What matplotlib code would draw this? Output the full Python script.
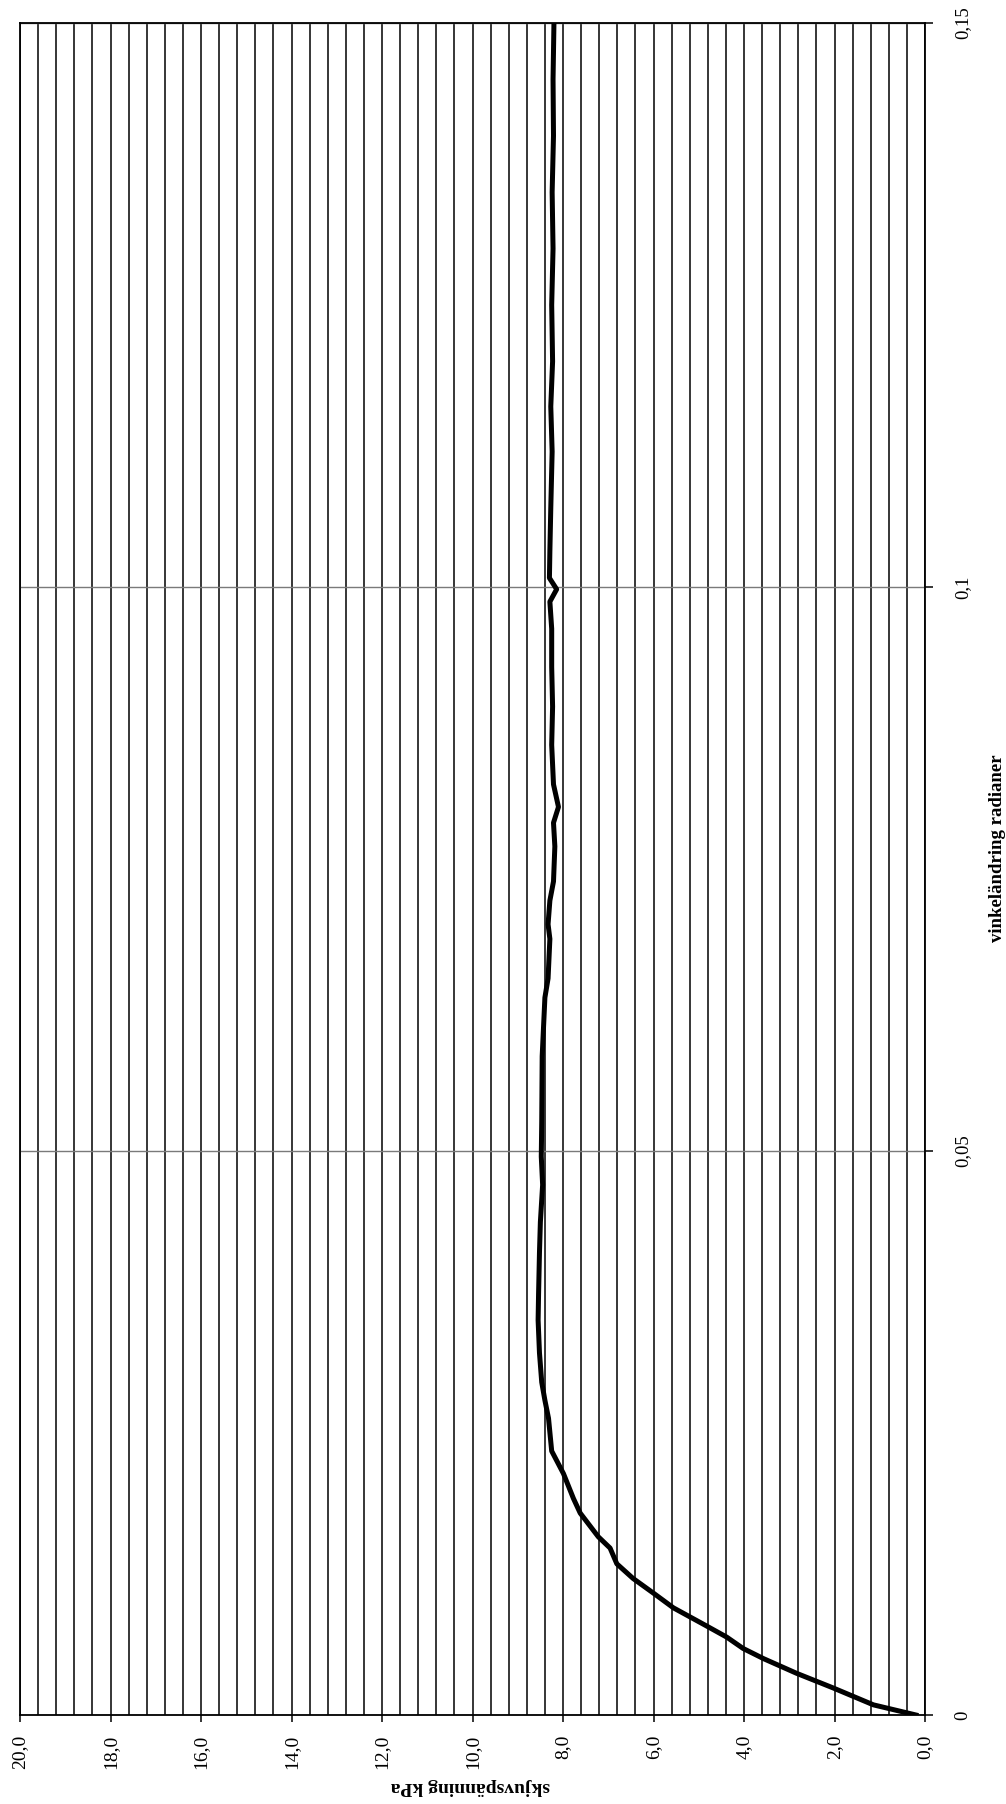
import matplotlib
matplotlib.use("Agg")
import matplotlib.pyplot as plt
from matplotlib.ticker import MultipleLocator, FixedLocator, FuncFormatter

plt.rcParams['font.family'] = ['Liberation Serif', 'DejaVu Serif']

# vinkeländring (radianer) and skjuvspänning (kPa)
vinkel = [0.0000, 0.0009, 0.0024, 0.0037, 0.0050, 0.0059, 0.0069, 0.0079, 0.0095, 0.0108,
          0.0121, 0.0134, 0.0148, 0.0158, 0.0179, 0.0192, 0.0214, 0.0234, 0.0263, 0.0279,
          0.0295, 0.0321, 0.0350, 0.0373, 0.0410, 0.0437, 0.0470, 0.0495, 0.0526, 0.0584,
          0.0636, 0.0653, 0.0688, 0.0701, 0.0722, 0.0739, 0.0770, 0.0791, 0.0805, 0.0825,
          0.0860, 0.0894, 0.0929, 0.0963, 0.0987, 0.0998, 0.1008, 0.1032, 0.1070, 0.1120,
          0.1160, 0.1200, 0.1250, 0.1300, 0.1350, 0.1400, 0.1450, 0.1500]
skjuv = [0.20, 1.14, 2.03, 2.84, 3.57, 4.02, 4.38, 4.83, 5.56, 6.00,
         6.45, 6.81, 6.96, 7.22, 7.62, 7.77, 7.99, 8.25, 8.32, 8.40,
         8.47, 8.52, 8.55, 8.54, 8.52, 8.50, 8.45, 8.48, 8.47, 8.46,
         8.40, 8.33, 8.29, 8.33, 8.29, 8.21, 8.18, 8.21, 8.10, 8.21,
         8.25, 8.23, 8.25, 8.25, 8.29, 8.14, 8.30, 8.29, 8.27, 8.24,
         8.27, 8.23, 8.25, 8.22, 8.24, 8.21, 8.22, 8.20]

vinkel_ticks = [0, 0.05, 0.1, 0.15]
vinkel_labels = ["0", "0,05", "0,1", "0,15"]

W, H = 1006, 1804
fig = plt.figure(figsize=(W / 100, H / 100), dpi=100)
# the page is turned: stress runs right-to-left, angle runs bottom-to-top
ax = fig.add_axes([20 / W, 1 - 1715 / H, (925 - 20) / W, (1715 - 23) / H])

ax.plot(skjuv, vinkel, color='black', lw=3.6, solid_joinstyle='round', zorder=3)

ax.set_xlim(20, 0)
ax.set_ylim(0, 0.15)

ax.xaxis.set_major_locator(MultipleLocator(2))
ax.xaxis.set_minor_locator(MultipleLocator(0.4))
ax.xaxis.set_major_formatter(FuncFormatter(lambda v, p: f"{v:.1f}".replace('.', ',')))
ax.grid(True, axis='x', which='both', color='black', lw=1.1)

ax.yaxis.tick_right()
ax.yaxis.set_major_locator(FixedLocator(vinkel_ticks))
ax.set_yticklabels(vinkel_labels)
ax.grid(True, axis='y', which='major', color='#7a7a7a', lw=1.0)

ax.tick_params(axis='x', which='major', direction='out', length=5, width=1.1, pad=9,
               labelsize=14, labelrotation=90)
ax.tick_params(axis='x', which='minor', length=0)
ax.tick_params(axis='y', which='major', direction='out', length=6, width=1.1, pad=15,
               labelsize=13.5, labelrotation=90)
for lbl in ax.get_yticklabels():
    lbl.set_verticalalignment('center')

for sp in ax.spines.values():
    sp.set_linewidth(1.3)
    sp.set_color('black')

fig.text(998 / W, 1 - 848 / H, "vinkeländring radianer", rotation=90,
         ha='center', va='center', fontsize=13.5, fontweight='bold')
fig.text(470 / W, 1 - 1787 / H, "skjuvspänning kPa", rotation=180,
         ha='center', va='center', fontsize=14, fontweight='bold')

fig.savefig("out.png", dpi=100, facecolor='white')
